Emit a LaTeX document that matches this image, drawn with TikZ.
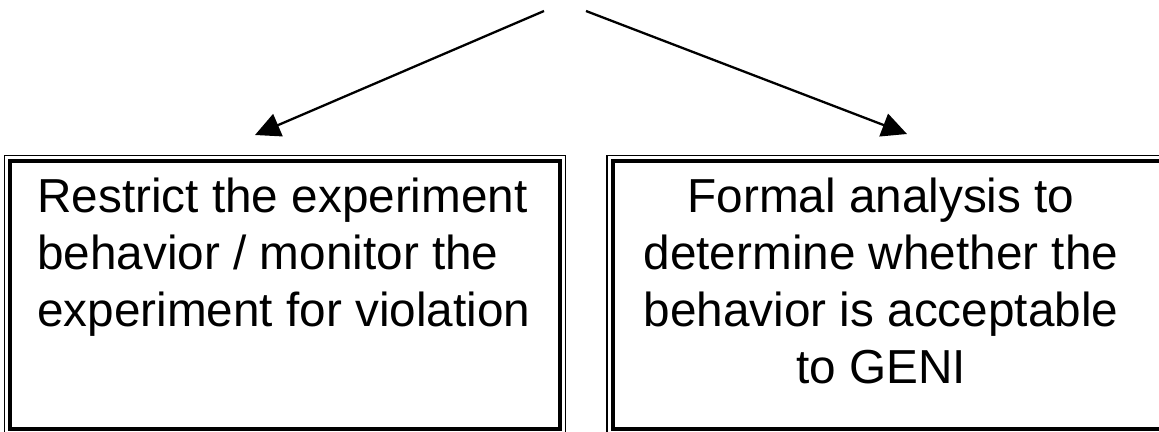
\documentclass[tikz,border=0pt]{standalone}
\usepackage{fontspec}
\setmainfont{Liberation Sans}
\usepackage{tikz}
\usetikzlibrary{arrows.meta}

\begin{document}
\begin{tikzpicture}[
  x=1pt, y=-1pt,
  frame/.style={draw, line width=4pt, outer sep=0pt, inner sep=0pt, minimum width=550pt, minimum height=267.5pt},
  rim/.style={draw, line width=1.1pt},
  boxtext/.style={inner sep=0pt, font=\fontsize{47.7}{57}\selectfont},
  line/.style={-{Triangle[length=25pt,width=24pt]}, line width=2.3pt}
]
\useasboundingbox (0,0) rectangle (1159,431);

\node[frame] (restrict) at (285.3,294.75) {};
\node[frame] (formal) at (887.5,294.75) {};
\foreach \b in {restrict,formal}
  \draw[rim] ([shift={(-5.5pt,5.5pt)}]\b.north west) rectangle ([shift={(5.5pt,-5.5pt)}]\b.south east);

\node[boxtext, align=left, anchor=north west] (restrictText) at (37,177.8) {Restrict the experiment\\behavior / monitor the\\experiment for violation};
\node[boxtext, align=center, anchor=north] (formalText) at (881,177.8) {Formal analysis to\\determine whether the\\behavior is acceptable\\to GENI};

\coordinate (forkL) at (544,11);
\coordinate (forkR) at (586,11);
\coordinate (tipL) at (255,135);
\coordinate (tipR) at (907,134);
\draw[line] (forkL) -- (tipL);
\draw[line] (forkR) -- (tipR);
\end{tikzpicture}
\end{document}
